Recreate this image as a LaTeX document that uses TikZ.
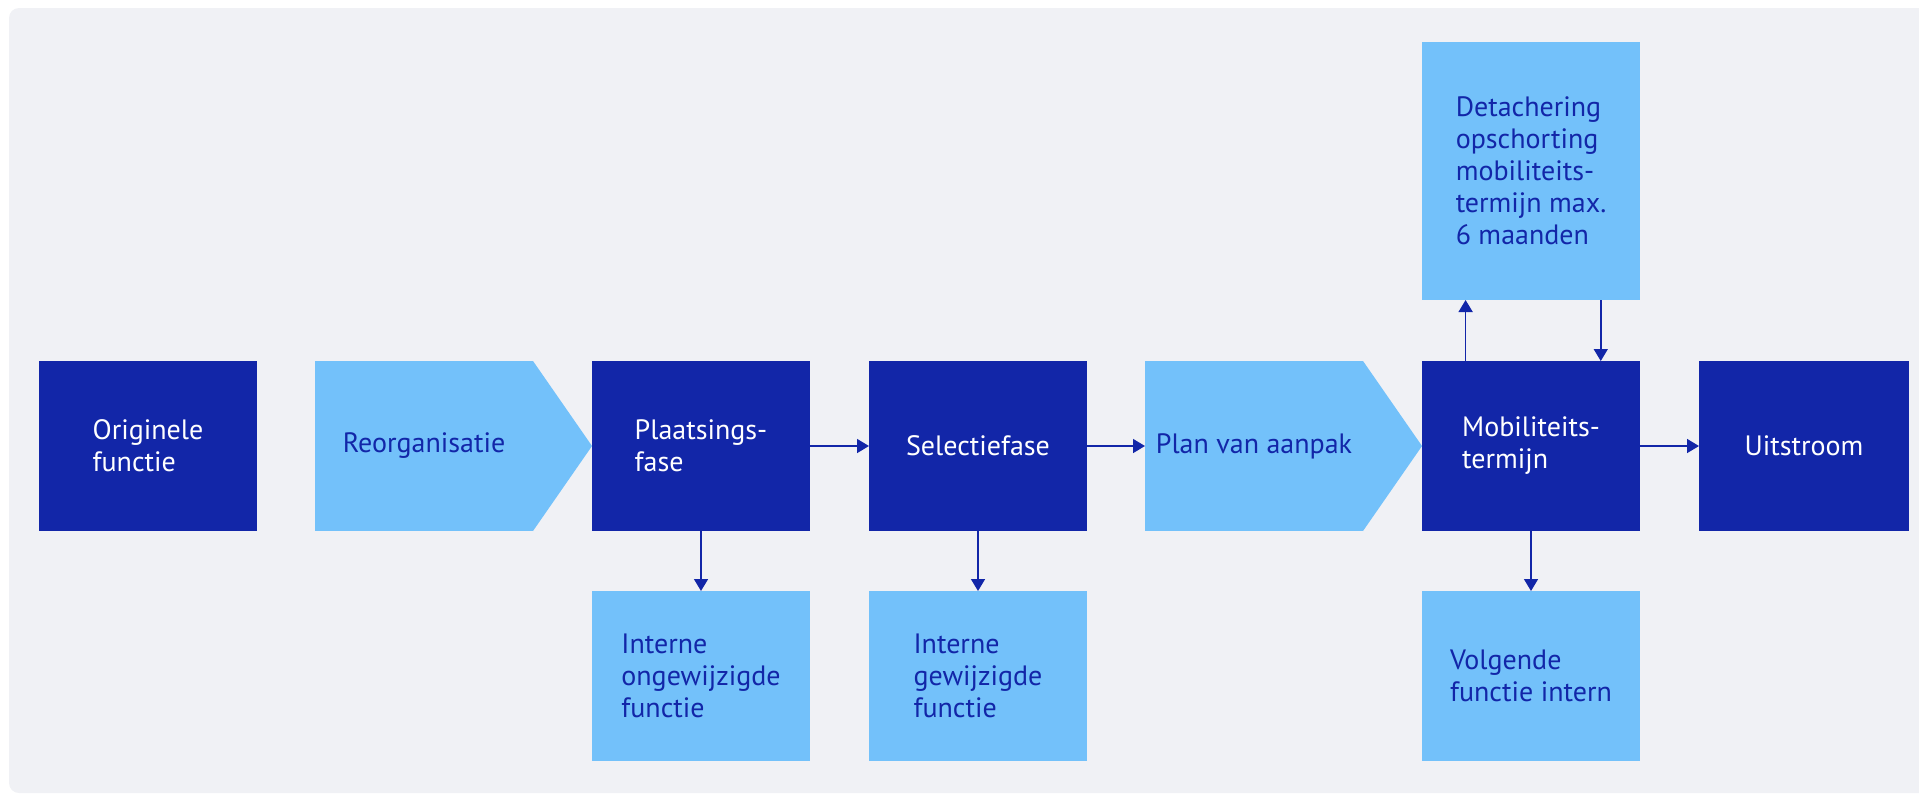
\documentclass[tikz,border=0pt]{standalone}
\usepackage{fontspec}
\setmainfont{PT Sans}
\usetikzlibrary{arrows.meta,calc}
\definecolor{donker}{HTML}{1226A8}
\definecolor{licht}{HTML}{73C1FA}
\definecolor{achtergrond}{HTML}{F0F1F5}

\begin{document}
\begin{tikzpicture}[
    x=1pt, y=-1pt,
    every node/.style={
      outer sep=0pt, inner sep=0pt, align=left,
      minimum width=218pt, minimum height=170pt,
      font=\fontsize{28}{32}\selectfont,
    },
    fase/.style={fill=donker, text=white},
    uitkomst/.style={fill=licht, text=donker},
    pijl/.style={donker, line width=1.5pt, -{Triangle[length=12pt,width=14pt]}},
  ]
    \useasboundingbox (0,0) rectangle (1919,795);
    \fill[achtergrond, rounded corners=10pt] (9,8) rectangle (1940,793);

    \node[fase] (orig) at (148,446) {Originele\\functie};
    \node[uitkomst] (reorg) at (424,446) {Reorganisatie};
    \node[fase] (plaats) at (701,446) {Plaatsings-\\fase};
    \node[fase] (sel) at (978,446) {Selectiefase};
    \node[uitkomst] (plan) at (1254,446) {Plan van aanpak};
    \node[fase] (mob) at (1531,446) {Mobiliteits-\\termijn};
    \node[fase, minimum width=210pt] (uit) at (1804,446) {Uitstroom};

    \fill[licht] (reorg.north east) -- (plaats.west) -- (reorg.south east) -- cycle;
    \fill[licht] (plan.north east) -- (mob.west) -- (plan.south east) -- cycle;

    \node[uitkomst, minimum height=258pt] (det) at (1531,171)
      {Detachering\\opschorting\\mobiliteits-\\termijn max.\\6 maanden};
    \node[uitkomst] (intong) at (701,676) {Interne\\ongewijzigde\\functie};
    \node[uitkomst] (intgew) at (978,676) {Interne\\gewijzigde\\functie};
    \node[uitkomst] (volg) at (1531,676) {Volgende\\functie intern};

    \draw[pijl] (plaats) -- (sel);
    \draw[pijl] (sel) -- (plan);
    \draw[pijl] (mob) -- (uit);
    \draw[pijl] (plaats) -- (intong);
    \draw[pijl] (sel) -- (intgew);
    \draw[pijl] (mob) -- (volg);
    \coordinate (op) at ($(mob.north west)!.2!(mob.north east)$);
    \coordinate (neer) at ($(det.south west)!.82!(det.south east)$);
    \draw[pijl] (op) -- (op |- det.south);
    \draw[pijl] (neer) -- (neer |- mob.north);
  \end{tikzpicture}
\end{document}
